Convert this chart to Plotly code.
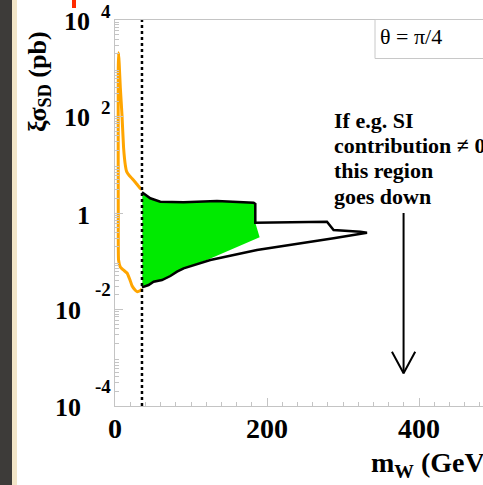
import plotly.graph_objects as go

# ---------------- data ----------------
# orange curve: m_W (GeV), xi*sigma_SD (pb)
orange_x = [35.5, 33.3, 27.5, 22.4, 19.0, 15.5, 13.6, 11.3, 9.2, 7.0, 5.5, 4.7,
            4.3, 4.2, 4.3, 4.7, 7.0, 11.0, 15.8, 19.5, 22.4, 26.7, 29.3, 33.3, 35.5]
orange_y = [3.09, 3.24, 4.2, 5.2, 5.9, 7.1, 9.8, 22.4, 107, 398, 1260, 2090,
            1000, 100, 1.0, 0.106, 0.076, 0.066, 0.057, 0.042, 0.031, 0.0251, 0.0234, 0.0248, 0.0266]

# black contour
black_x = [35.5, 37.6, 46.4, 59.6, 90.3, 134.2, 169.2, 182.4, 184.6, 184.6, 278.9, 287.6,
           322.8, 331.6, 287.6, 186.8, 125.4, 90.3, 81.6, 72.8, 61.8, 50.8, 44.2, 37.6, 35.5]
black_y = [2.69, 2.56, 2.02, 1.71, 1.67, 1.77, 1.71, 1.63, 1.55, 0.63, 0.66, 0.445,
           0.409, 0.391, 0.299, 0.171, 0.106, 0.0714, 0.0608, 0.0494, 0.0408, 0.0377, 0.0322, 0.0297, 0.0288]

# green region
green_x = [36.0, 37.6, 46.4, 59.6, 90.3, 134.2, 169.2, 182.4, 184.6, 184.6, 190.3, 121.0,
           90.3, 81.6, 72.8, 61.8, 50.8, 44.2, 37.6, 36.0]
green_y = [2.69, 2.56, 2.02, 1.71, 1.67, 1.77, 1.71, 1.63, 1.55, 0.63, 0.313, 0.106,
           0.0714, 0.0608, 0.0494, 0.0408, 0.0377, 0.0322, 0.0297, 0.0288]

# vertical dotted limit
limit_x = 35.5
y_min, y_max = 1e-4, 1e4

# arrow ("this region goes down")
arrow_x = 379.7
arrow_top = 1.0
arrow_tip = 4.76e-4
arrow_head_dx = 15.3
arrow_head_y = 1.33e-3

# axis ticks
x_tick_vals = [0, 200, 400]
x_tick_text = ["0", "200", "400"]
y_tick_exps = [4, 2, 0, -2, -4]

note_lines = ["If e.g. SI", "contribution \u2260 0", "this region", "goes down"]
legend_text = "\u03b8 = \u03c0/4"

# ---------------- figure ----------------
W, H = 483, 485
L, T, B = 115, 20, 79
PW, PH = W - L, H - T - B
x_max = PW / 0.76


def xp(px):
    return (px - L) / PW


def yp(py):
    return (T + PH - py) / PH


FONT = "Liberation Serif"

fig = go.Figure()

fig.add_trace(go.Scatter(x=green_x, y=green_y, mode="lines", fill="toself",
                         fillcolor="rgb(0,234,0)", line=dict(width=0, color="rgb(0,234,0)"),
                         hoverinfo="skip", showlegend=False))
fig.add_trace(go.Scatter(x=black_x, y=black_y, mode="lines",
                         line=dict(color="black", width=2.5), showlegend=False))
fig.add_trace(go.Scatter(x=orange_x, y=orange_y, mode="lines",
                         line=dict(color="#ffa500", width=3, shape="spline", smoothing=0.4),
                         showlegend=False))
fig.add_trace(go.Scatter(x=[limit_x, limit_x], y=[y_min, y_max], mode="lines",
                         line=dict(color="black", width=2.5, dash="3px,3px"), showlegend=False))
# arrow shaft and head
fig.add_trace(go.Scatter(x=[arrow_x, arrow_x], y=[arrow_top, arrow_tip], mode="lines",
                         line=dict(color="black", width=2), showlegend=False))
fig.add_trace(go.Scatter(x=[arrow_x - arrow_head_dx, arrow_x, arrow_x + arrow_head_dx],
                         y=[arrow_head_y, arrow_tip, arrow_head_y], mode="lines",
                         line=dict(color="black", width=2), showlegend=False))

x_minor = [v for v in range(0, 500, 20) if v % 200 != 0]
y_minor = [m * 10 ** e for e in range(-4, 4) for m in range(2, 10)]

fig.update_xaxes(range=[0, x_max], showgrid=False, zeroline=False,
                 showline=True, linecolor="#c4c4c4", linewidth=1, mirror=True,
                 ticks="inside", tickvals=x_tick_vals, ticklen=8, tickcolor="#c4c4c4",
                 showticklabels=False,
                 minor=dict(tickvals=x_minor, ticks="inside", ticklen=4, tickcolor="#c4c4c4"))
fig.update_yaxes(type="log", range=[-4, 4], showgrid=False, zeroline=False,
                 showline=True, linecolor="#c4c4c4", linewidth=1,
                 ticks="inside", tickvals=[10 ** e for e in y_tick_exps], ticklen=8,
                 tickcolor="#c4c4c4", showticklabels=False,
                 minor=dict(tickvals=y_minor, ticks="inside", ticklen=4, tickcolor="#c4c4c4"))

ann = []
# y tick labels (ROOT style 10^n)
for e in y_tick_exps:
    if e == 0:
        ann.append(dict(x=xp(92), y=e, xref="paper", yref="y", xanchor="right", yanchor="middle",
                        text="<b>1</b>", showarrow=False, yshift=-2,
                        font=dict(family=FONT, size=26, color="black")))
        continue
    ann.append(dict(x=xp(92 if e > 0 else 83), y=e, xref="paper", yref="y",
                    xanchor="right", yanchor="middle", text="<b>10</b>", showarrow=False,
                    yshift=-1, font=dict(family=FONT, size=26, color="black")))
    ann.append(dict(x=xp(113), y=e, xref="paper", yref="y", xanchor="right", yanchor="middle",
                    text="<b>%d</b>" % e, showarrow=False, yshift=(9 if e > 0 else 20),
                    font=dict(family=FONT, size=19, color="black")))
# x tick labels
for v, t in zip(x_tick_vals, x_tick_text):
    ann.append(dict(x=v, y=yp(428.5), xref="x", yref="paper", xanchor="center", yanchor="middle",
                    text="<b>%s</b>" % t, showarrow=False,
                    font=dict(family=FONT, size=28, color="black")))
# axis titles
ann.append(dict(x=xp(369), y=yp(464), xref="paper", yref="paper", xanchor="left", yanchor="middle",
                text="<b>m<sub>W</sub> (GeV)</b>", showarrow=False,
                font=dict(family=FONT, size=28, color="black")))
ann.append(dict(x=xp(39), y=yp(82), xref="paper", yref="paper", xanchor="center", yanchor="middle",
                text="<b>\u03be\u03c3<sub>SD</sub> (pb)</b>", showarrow=False, textangle=-90,
                font=dict(family=FONT, size=26, color="black")))
# legend text
ann.append(dict(x=xp(378), y=yp(36), xref="paper", yref="paper", xanchor="left", yanchor="middle",
                text=legend_text, showarrow=False,
                font=dict(family=FONT, size=22, color="black")))
# note
for i, line in enumerate(note_lines):
    ann.append(dict(x=xp(332), y=yp(120.5 + 25.2 * i), xref="paper", yref="paper",
                    xanchor="left", yanchor="middle", text="<b>%s</b>" % line, showarrow=False,
                    font=dict(family=FONT, size=22, color="black")))

shapes = [
    dict(type="rect", xref="paper", yref="paper", x0=xp(-5), x1=xp(12), y0=yp(490), y1=yp(-5),
         fillcolor="#3d3b39", line=dict(width=0), layer="above"),
    dict(type="rect", xref="paper", yref="paper", x0=xp(12), x1=xp(17), y0=yp(490), y1=yp(-5),
         fillcolor="#f2e5c8", line=dict(width=0), layer="above"),
    dict(type="rect", xref="paper", yref="paper", x0=xp(72), x1=xp(76), y0=yp(8), y1=yp(-5),
         fillcolor="#ff2a00", line=dict(width=0), layer="above"),
    dict(type="rect", xref="paper", yref="paper", x0=xp(375), x1=xp(495), y0=yp(58.5), y1=yp(19.5),
         fillcolor="white", line=dict(width=1, color="#c8c8c8"), layer="above"),
]

fig.update_layout(width=W, height=H, margin=dict(l=L, r=0, t=T, b=B, pad=0),
                  paper_bgcolor="white", plot_bgcolor="white",
                  annotations=ann, shapes=shapes, showlegend=False)

fig.write_html("out.html")
